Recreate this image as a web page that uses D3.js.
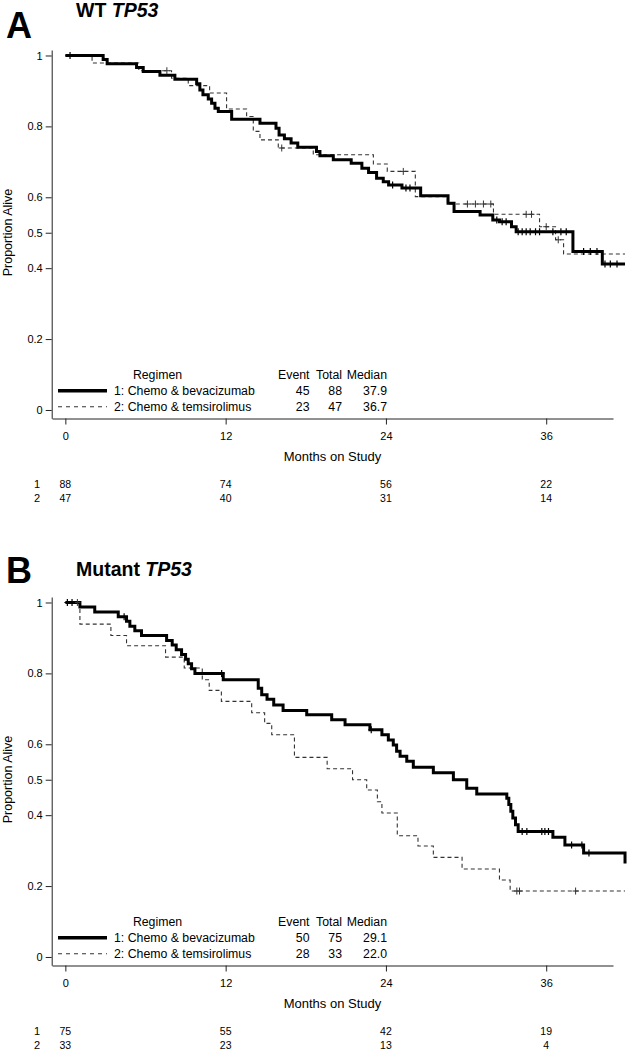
<!DOCTYPE html>
<html><head><meta charset="utf-8">
<script src="https://cdn.jsdelivr.net/npm/d3@7"></script>
<style>
body{margin:0;background:#fff}
svg{display:block}
text{font-family:"Liberation Sans",Arial,Helvetica,sans-serif;fill:#000}
</style>
</head><body>
<svg id="chart" width="628" height="1050"></svg>
<script>
// ---------- shared labels ----------
const monthTicks = [0, 12, 24, 36];
const yTickValues = [0, 0.2, 0.4, 0.5, 0.6, 0.8, 1];
const yTickLabels = ["0", "0.2", "0.4", "0.5", "0.6", "0.8", "1"];
const regimenLabels = ["1: Chemo & bevacizumab", "2: Chemo & temsirolimus"];
const statHeaders = ["Event", "Total", "Median"];
const riskRowLabels = ["1", "2"];

// ---------- Panel A: WT TP53 ----------
const wtBevTime = [0, 2.83, 3.13, 5.33, 5.83, 7.08, 8.2, 9.83, 10.07, 10.3, 10.7, 10.95, 11.2, 11.45, 12.45, 14.57, 15.77, 16.0, 16.4, 16.9, 17.4, 18.8, 19.06, 20.06, 21.4, 22.2, 22.7, 23.3, 23.8, 24.2, 25.2, 26.6, 28.65, 29.1, 31.05, 32.0, 32.5, 33.4, 33.75, 38.0, 40.2, 41.9];
const wtBevSurv = [1, .989, .977, .966, .955, .944, .933, .920, .903, .889, .877, .865, .851, .842, .820, .809, .795, .776, .765, .753, .741, .729, .717, .706, .696, .682, .670, .654, .644, .635, .626, .604, .583, .560, .550, .536, .531, .517, .503, .447, .412, .412];
const wtBevCensor = [0.35, 24.5, 25.5, 25.8, 32.3, 32.7, 33.0, 33.9, 34.2, 34.5, 34.8, 35.2, 35.5, 36.5, 37.1, 37.5, 38.8, 39.3, 39.8, 40.4, 40.8, 41.3];

const wtTemTime = [0, 2.0, 5.5, 7.95, 9.2, 10.8, 12.07, 13.57, 14.07, 14.57, 15.94, 18.56, 23.06, 24.1, 26.2, 28.6, 32.05, 35.5, 36.7, 37.3, 41.9];
const wtTemSurv = [1, .979, .957, .936, .915, .894, .849, .828, .786, .762, .739, .720, .694, .673, .602, .581, .552, .517, .480, .440, .440];
const wtTemCensor = [7.6, 16.2, 25.3, 30.1, 30.7, 31.3, 31.85, 34.5, 34.9, 36.0, 36.9];

const wtStats = [[45, 88, "37.9"], [23, 47, "36.7"]];
const wtRisk = [[88, 74, 56, 22], [47, 40, 31, 14]];

// ---------- Panel B: Mutant TP53 ----------
const mutBevTime = [0, 1.09, 2.2, 3.96, 4.58, 4.83, 5.2, 5.7, 7.58, 8.0, 8.3, 8.7, 9.0, 9.2, 9.45, 9.7, 11.82, 14.44, 14.7, 15.1, 15.6, 16.3, 18.07, 19.94, 20.94, 22.8, 23.7, 24.18, 24.55, 24.8, 25.06, 25.56, 26.05, 27.55, 29.05, 30.05, 30.8, 33.05, 33.2, 33.35, 33.5, 33.7, 33.9, 36.5, 37.4, 38.8, 41.9];
const mutBevSurv = [1, .987, .973, .960, .947, .933, .920, .907, .893, .880, .867, .853, .840, .827, .813, .800, .782, .758, .740, .727, .711, .695, .683, .669, .655, .641, .627, .612, .598, .580, .566, .552, .535, .520, .500, .476, .460, .448, .430, .411, .392, .373, .354, .338, .316, .293, .264];
const mutBevCensor = [0.15, 0.5, 4.4, 11.7, 22.9, 34.2, 34.55, 35.67, 35.9, 36.17, 37.9, 38.67, 39.2];

const mutTemTime = [0, 1.09, 3.41, 4.58, 7.5, 8.9, 10.25, 10.77, 11.68, 13.95, 14.92, 15.45, 17.15, 19.6, 21.5, 22.56, 23.36, 23.7, 24.85, 26.4, 27.55, 29.7, 32.5, 33.3, 41.9];
const mutTemSurv = [1, .939, .907, .878, .846, .815, .782, .752, .721, .689, .659, .627, .563, .531, .500, .471, .438, .406, .342, .313, .281, .248, .217, .186, .186];
const mutTemCensor = [0.9, 33.8, 34.0, 38.2];

const mutStats = [[50, 75, "29.1"], [28, 33, "22.0"]];
const mutRisk = [[75, 55, 42, 19], [33, 23, 13, 4]];

// ---------- drawing ----------
const svg = d3.select("#chart");
const FONT = '"Liberation Sans",Arial,Helvetica,sans-serif';

function survAt(times, surv, t) {
  let v = surv[0];
  for (let i = 0; i < times.length; i++) { if (times[i] <= t) v = surv[i]; }
  return v;
}

function drawPanel(cfg) {
  const off = cfg.offset;
  const g = svg.append("g");
  const x = d3.scaleLinear().domain([-1, 41]).range([52, 613]);
  const y = d3.scaleLinear().domain([-0.0235, 1.0155]).range([418.3 + off, 50 + off]);

  // letter and title
  g.append("text").attr("x", 6).attr("y", cfg.letterY).attr("font-size", 36)
    .attr("font-weight", "bold").text(cfg.letter);
  const tt = g.append("text").attr("x", 76).attr("y", cfg.titleY).attr("font-size", 19.5)
    .attr("font-weight", "bold");
  tt.append("tspan").text(cfg.titlePrefix + " ");
  tt.append("tspan").attr("font-style", "italic").text("TP53");

  // axes
  const xa = g.append("g").attr("transform", `translate(0,${418.5 + off})`)
    .call(d3.axisBottom(x).tickValues(monthTicks).tickSize(6).tickSizeOuter(0).tickPadding(8));
  const ya = g.append("g").attr("transform", `translate(51.7,0)`)
    .call(d3.axisLeft(y).tickValues(yTickValues).tickFormat((d, i) => yTickLabels[i])
      .tickSize(6).tickSizeOuter(0).tickPadding(3));
  [xa, ya].forEach(a => {
    a.selectAll("path,line").attr("stroke", "#222").attr("stroke-width", 1);
    a.selectAll("text").attr("font-size", 11).attr("font-family", FONT).attr("fill", "#000");
  });

  // axis titles
  g.append("text").attr("transform", `translate(12,${232.5 + off}) rotate(-90)`)
    .attr("text-anchor", "middle").attr("font-size", 12.5).text("Proportion Alive");
  g.append("text").attr("x", 332.5).attr("y", 461 + off).attr("text-anchor", "middle")
    .attr("font-size", 13).text("Months on Study");

  // curves
  const line = d3.line().x(d => x(d[0])).y(d => y(d[1])).curve(d3.curveStepAfter);
  const temData = cfg.temTime.map((t, i) => [t, cfg.temSurv[i]]);
  const bevData = cfg.bevTime.map((t, i) => [t, cfg.bevSurv[i]]);
  g.append("path").datum(temData).attr("d", line).attr("fill", "none")
    .attr("stroke", "#333").attr("stroke-width", 1.1).attr("stroke-dasharray", "4,3");
  g.append("path").datum(bevData).attr("d", line).attr("fill", "none")
    .attr("stroke", "#000").attr("stroke-width", 3).attr("stroke-linejoin", "miter");

  // censor marks
  function censors(times, survT, survS, color, w) {
    g.selectAll(null).data(times).enter().append("path")
      .attr("d", t => {
        const cx = x(t), cy = y(survAt(survT, survS, t));
        return `M${cx - 3},${cy}H${cx + 3}M${cx},${cy - 3.5}V${cy + 3.5}`;
      })
      .attr("stroke", color).attr("stroke-width", w).attr("fill", "none");
  }
  censors(cfg.temCensor, cfg.temTime, cfg.temSurv, "#333", 1);
  censors(cfg.bevCensor, cfg.bevTime, cfg.bevSurv, "#000", 1.2);

  // legend
  g.append("line").attr("x1", 58).attr("x2", 107).attr("y1", 390.7 + off).attr("y2", 390.7 + off)
    .attr("stroke", "#000").attr("stroke-width", 3.5);
  g.append("line").attr("x1", 58).attr("x2", 107).attr("y1", 406.7 + off).attr("y2", 406.7 + off)
    .attr("stroke", "#333").attr("stroke-width", 1.1).attr("stroke-dasharray", "4,4");
  g.append("text").attr("x", 157.5).attr("y", 379 + off).attr("text-anchor", "middle")
    .attr("font-size", 12.3).text("Regimen");
  const colX = [309.5, 342, 387];
  statHeaders.forEach((h, i) => {
    g.append("text").attr("x", colX[i]).attr("y", 379 + off).attr("text-anchor", "end")
      .attr("font-size", 12.3).text(h);
  });
  regimenLabels.forEach((lab, r) => {
    const by = (r === 0 ? 395 : 411) + off;
    g.append("text").attr("x", 114).attr("y", by).attr("font-size", 12.3).text(lab);
    cfg.stats[r].forEach((v, i) => {
      g.append("text").attr("x", colX[i]).attr("y", by).attr("text-anchor", "end")
        .attr("font-size", 12.3).text(v);
    });
  });

  // number at risk
  riskRowLabels.forEach((lab, r) => {
    const by = (r === 0 ? 488 : 502) + off;
    g.append("text").attr("x", 37).attr("y", by).attr("text-anchor", "middle")
      .attr("font-size", 11).text(lab);
    cfg.risk[r].forEach((v, i) => {
      g.append("text").attr("x", x(monthTicks[i])).attr("y", by).attr("text-anchor", "middle")
        .attr("font-size", 10.5).text(v);
    });
  });
}

drawPanel({
  offset: 0, letter: "A", letterY: 38, titleY: 17, titlePrefix: "WT",
  bevTime: wtBevTime, bevSurv: wtBevSurv, bevCensor: wtBevCensor,
  temTime: wtTemTime, temSurv: wtTemSurv, temCensor: wtTemCensor,
  stats: wtStats, risk: wtRisk
});
drawPanel({
  offset: 547, letter: "B", letterY: 583, titleY: 576, titlePrefix: "Mutant",
  bevTime: mutBevTime, bevSurv: mutBevSurv, bevCensor: mutBevCensor,
  temTime: mutTemTime, temSurv: mutTemSurv, temCensor: mutTemCensor,
  stats: mutStats, risk: mutRisk
});
</script>
</body></html>
